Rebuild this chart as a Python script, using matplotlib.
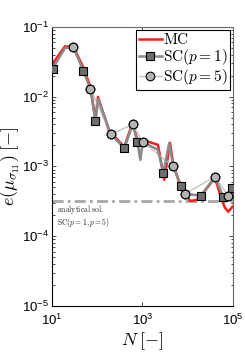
import numpy as np
import matplotlib
matplotlib.use("Agg")
import matplotlib.pyplot as plt
from matplotlib.ticker import LogLocator, NullLocator, NullFormatter

plt.rcParams['font.family'] = ['Liberation Sans', 'DejaVu Sans']
plt.rcParams['mathtext.fontset'] = 'custom'
plt.rcParams['mathtext.rm'] = 'Liberation Sans'
plt.rcParams['mathtext.it'] = 'Liberation Sans:italic'
plt.rcParams['mathtext.bf'] = 'Liberation Sans:bold'
plt.rcParams['mathtext.default'] = 'it'

# ---- data ----
mc_N = [10.3, 19.4, 29.9, 49.7, 70.9, 91.4, 104, 182, 396, 607, 767, 1009, 2200,
        3036, 4055, 4842, 6742, 8830, 11220, 15210, 19630, 28050, 40000, 56250,
        66530, 78700, 97500]
mc_err = [0.0295, 0.0526, 0.0517, 0.0259, 0.0138, 0.00466, 0.00993, 0.00323,
          0.00191, 0.00422, 0.00240, 0.00240, 0.00204, 0.000643, 0.00218, 0.00102,
          0.000545, 0.000405, 0.000321, 0.000327, 0.000379, 0.000511, 0.000687,
          0.000332, 0.000255, 0.000224, 0.000264]

sc_N = [10.3, 19.4, 29.8, 49.6, 70.9, 91.4, 105, 201, 397, 608, 766, 901, 1009,
        2190, 2886, 3890, 4815, 7100, 8800, 19600, 39800, 61000, 78000, 97500]
sc_err = [0.0250, 0.0500, 0.0508, 0.0234, 0.0129, 0.00443, 0.00929, 0.00288,
          0.00183, 0.00401, 0.00225, 0.00124, 0.00225, 0.00173, 0.000802, 0.00216,
          0.00100, 0.000527, 0.000405, 0.000379, 0.000710, 0.000366, 0.000380,
          0.000493]

sc1_N = [10.3, 49.6, 91.4, 397, 766, 2886, 7100, 19600, 61000, 97500]
sc5_N = [29.8, 70.9, 201, 608, 1009, 4815, 8800, 39800, 78000]

analytical = 3.14e-4

x_ticks = [1e1, 1e3, 1e5]

# ---- plot ----
fig = plt.figure(figsize=(2.45, 3.54), dpi=100)
ax = fig.add_axes([0.212, 0.136, 0.739, 0.788])

sc_N_arr = np.array(sc_N)
sc_err_arr = np.array(sc_err)
idx1 = [int(np.argmin(np.abs(sc_N_arr - n))) for n in sc1_N]
idx5 = [int(np.argmin(np.abs(sc_N_arr - n))) for n in sc5_N]

ax.axhline(analytical, color='#a8a8a8', lw=2.0, ls=(0, (4, 1.5, 1, 1.5)), zorder=1)

l_mc, = ax.plot(mc_N, mc_err, color='#ff1a1a', lw=1.8, zorder=2, label='MC')
l5, = ax.plot(sc_N_arr[idx5], sc_err_arr[idx5], color='#c4c4c4', lw=1.0, zorder=3,
              marker='o', ms=6.2, mfc='#b4b4b4', mec='black', mew=0.8)
l1, = ax.plot(sc_N, sc_err, color='#8a8a8a', lw=1.8, zorder=4,
              marker='s', ms=5.2, mfc='#6e6e6e', mec='black', mew=0.8,
              markevery=idx1)
ax.plot(sc_N_arr[idx5], sc_err_arr[idx5], ls='none', marker='o', ms=6.2,
        mfc='#b4b4b4', mec='black', mew=0.8, zorder=5)

ax.set_xscale('log')
ax.set_yscale('log')
ax.set_xlim(1e1, 1e5)
ax.set_ylim(1e-5, 1e-1)
ax.set_xticks(x_ticks)
ax.xaxis.set_minor_locator(NullLocator())
ax.yaxis.set_major_locator(LogLocator(base=10, numticks=10))
ax.yaxis.set_minor_locator(LogLocator(base=10, subs=np.arange(2, 10), numticks=10))
ax.yaxis.set_minor_formatter(NullFormatter())
ax.tick_params(which='both', direction='in', top=True, right=True, labelsize=9.5)
ax.tick_params(which='major', length=3, width=0.5)
ax.tick_params(which='minor', length=1.8, width=0.5)
ax.tick_params(axis='y', pad=2)
ax.tick_params(axis='x', pad=5)
for s in ax.spines.values():
    s.set_linewidth(0.8)
ax.spines['top'].set_color('#666666')
ax.spines['right'].set_color('#666666')

ax.set_xlabel(r'$N\;[-]$', fontsize=13, math_fontfamily='cm', labelpad=2)
ax.set_ylabel(r'$e(\mu_{\sigma_{11}})\;[-]$', fontsize=13, math_fontfamily='cm', labelpad=0)

ax.text(12.9, 2.95e-4, r'$\mathrm{analytical\ sol.}$', fontsize=5.5,
        math_fontfamily='cm', va='top', ha='left', color='#222222')
ax.text(12.9, 1.97e-4, r'$\mathrm{SC}(p=1,p=5)$', fontsize=5.5,
        math_fontfamily='cm', va='top', ha='left', color='#222222')

leg = ax.legend([l_mc, l1, l5],
                [r'$\mathrm{MC}$', r'$\mathrm{SC}(p=1)$', r'$\mathrm{SC}(p=5)$'],
                loc='upper right', fontsize=11, frameon=True, fancybox=False,
                borderaxespad=0.2, handlelength=1.5, handletextpad=0.1,
                labelspacing=0.0, borderpad=0.15, framealpha=1)
leg.get_frame().set_edgecolor('black')
leg.get_frame().set_linewidth(0.8)
for t in leg.get_texts():
    t.set_math_fontfamily('cm')

fig.savefig('out.png', dpi=100)
